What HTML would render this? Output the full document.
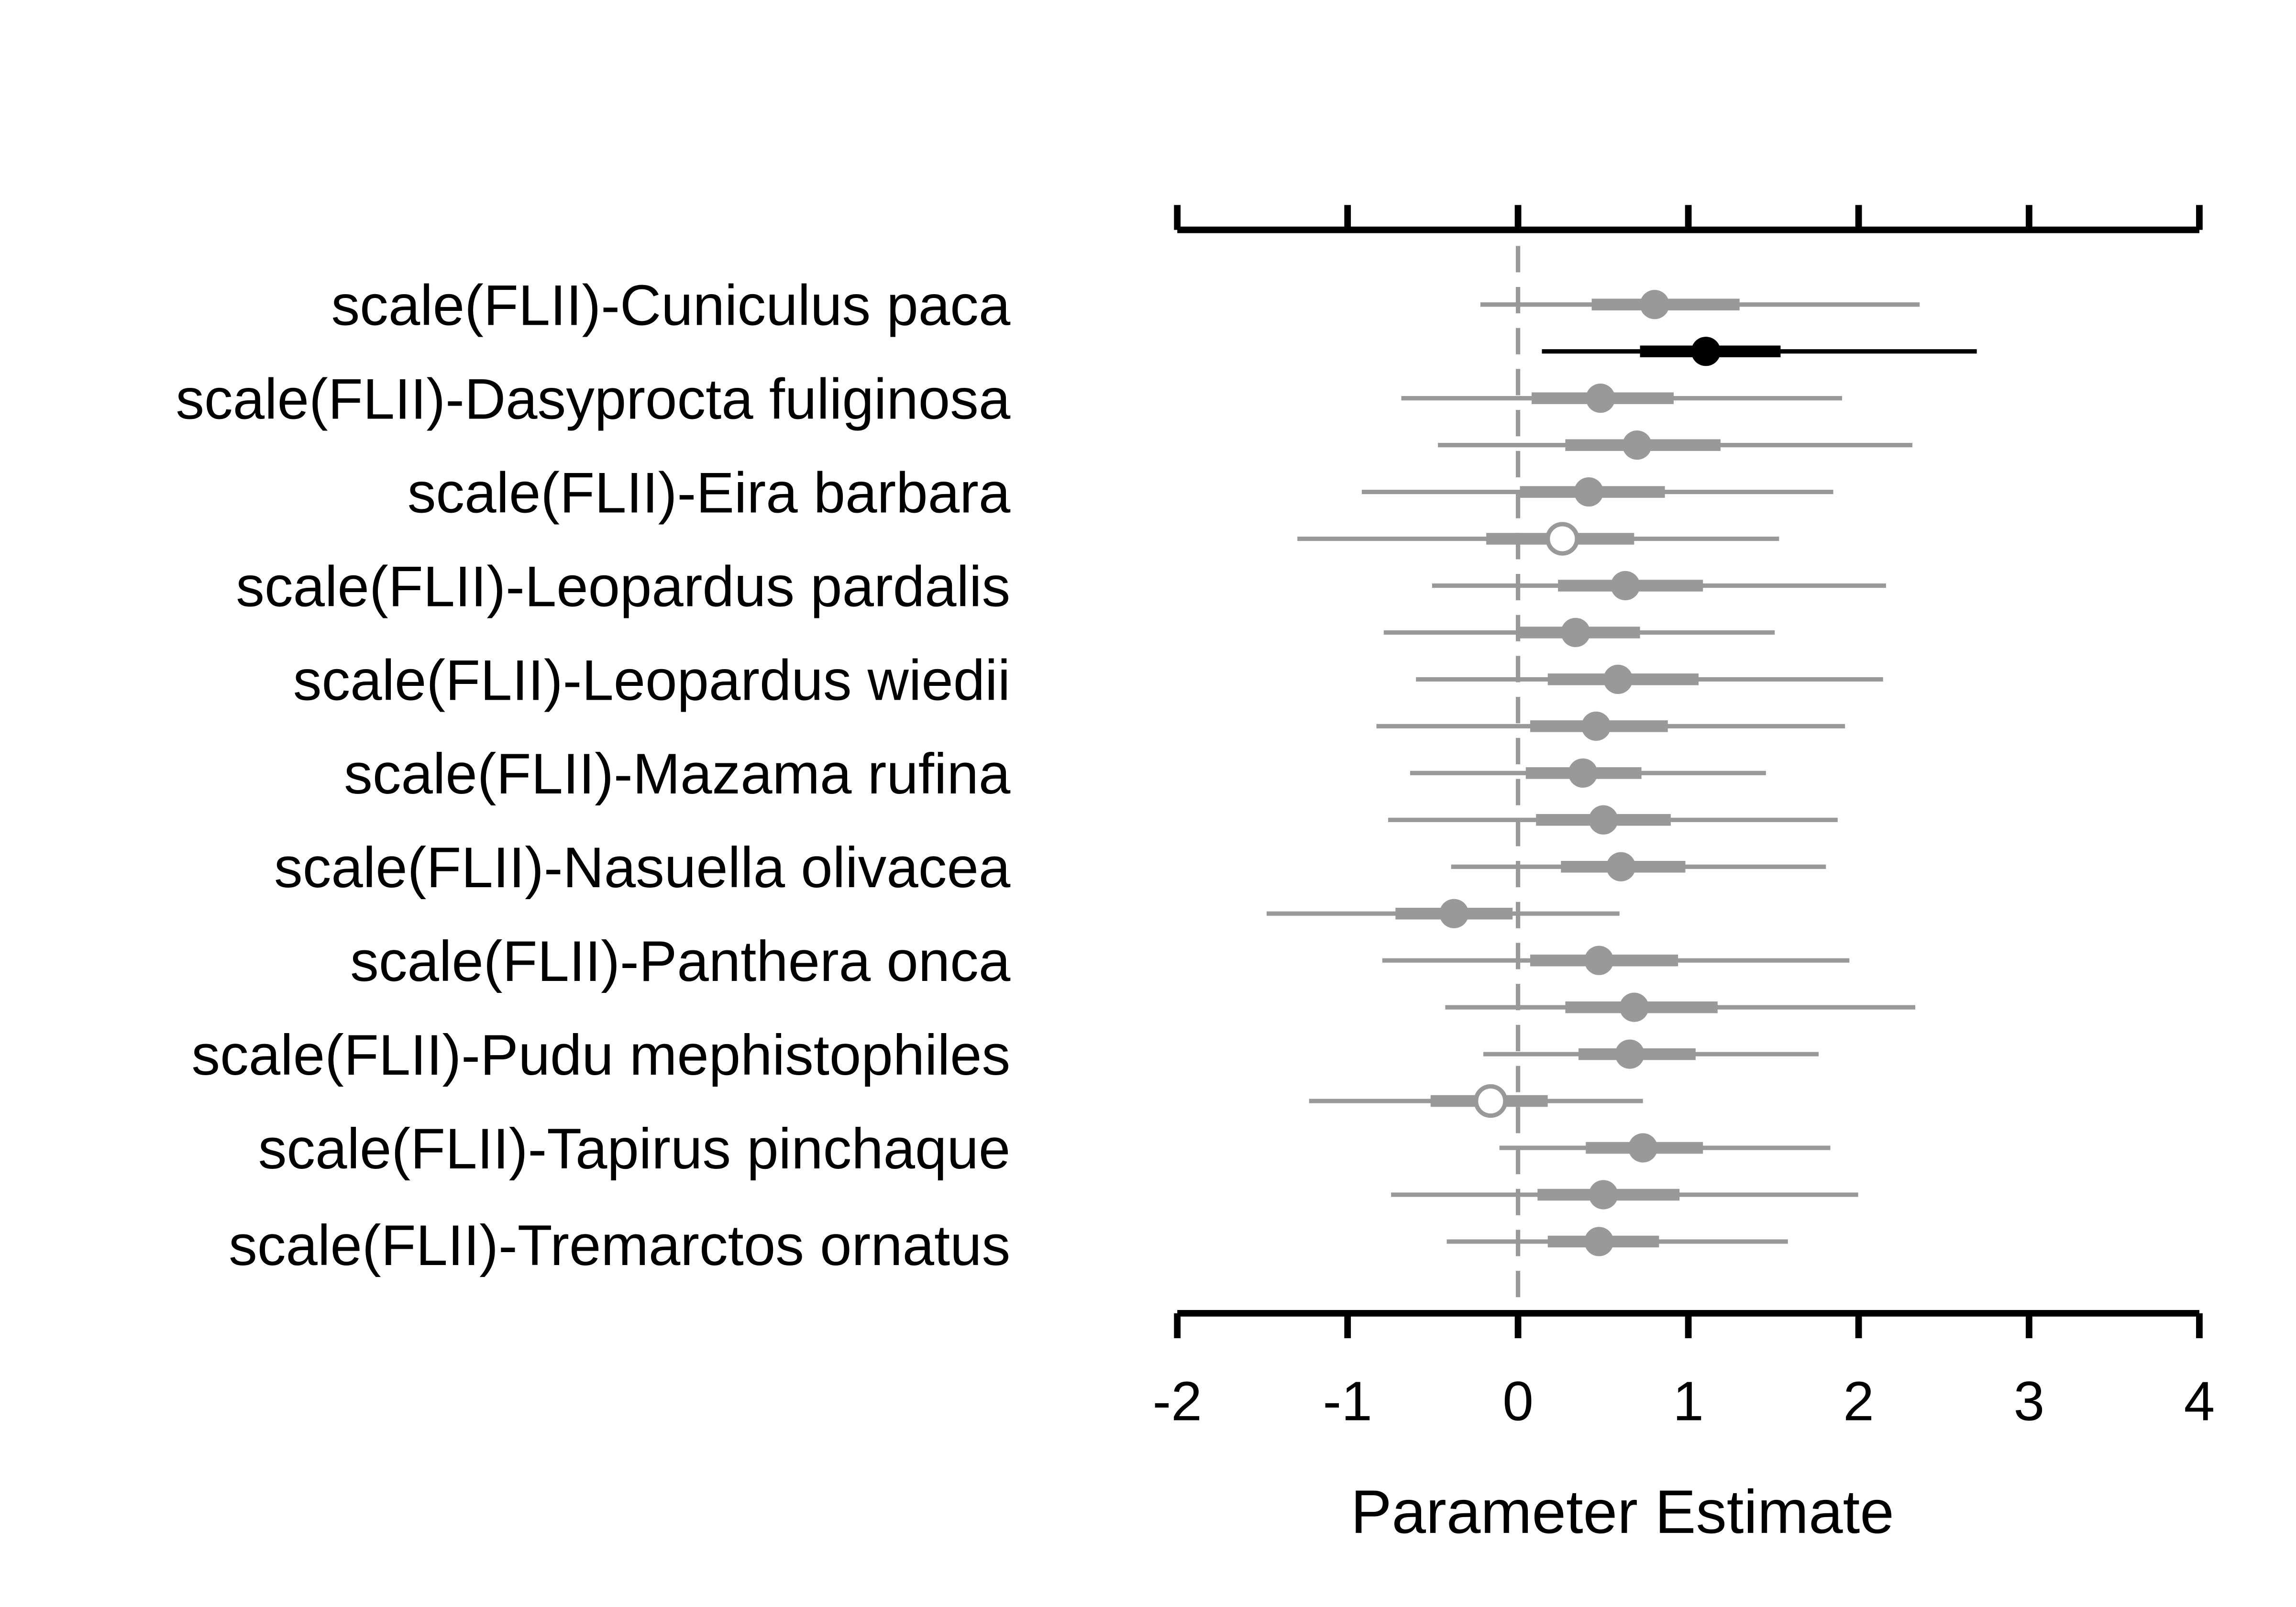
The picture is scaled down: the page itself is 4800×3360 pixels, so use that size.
<!DOCTYPE html>
<html><head><meta charset="utf-8"><style>
html,body{margin:0;padding:0;background:#fff;}
svg{display:block;}
text{font-family:"Liberation Sans",sans-serif;}
</style></head><body>
<svg width="4800" height="3360" viewBox="0 0 1568 1097.6" xmlns="http://www.w3.org/2000/svg">
<rect width="1568" height="1097.6" fill="#fff"/>
<line x1="1036.7" y1="168" x2="1036.7" y2="896" stroke="#999" stroke-width="3" stroke-dasharray="18,10"/>
<g stroke="#000" stroke-width="4.5" fill="none">
<path d="M804 157H1502M804 140V157M920.3 140V157M1036.7 140V157M1153 140V157M1269.3 140V157M1385.7 140V157M1502 140V157"/>
<path d="M804 897H1502M804 897V914M920.3 897V914M1036.7 897V914M1153 897V914M1269.3 897V914M1385.7 897V914M1502 897V914"/>
</g>
<g font-size="38" text-anchor="middle" fill="#000">
<text x="804" y="970">-2</text><text x="920.3" y="970">-1</text><text x="1036.7" y="970">0</text><text x="1153" y="970">1</text><text x="1269.3" y="970">2</text><text x="1385.7" y="970">3</text><text x="1502" y="970">4</text>
<text x="1108" y="1047" font-size="42">Parameter Estimate</text>
</g>
<g font-size="39" text-anchor="end" fill="#000">
<text x="690" y="222">scale(FLII)-Cuniculus paca</text>
<text x="690" y="286">scale(FLII)-Dasyprocta fuliginosa</text>
<text x="690" y="350">scale(FLII)-Eira barbara</text>
<text x="690" y="414">scale(FLII)-Leopardus pardalis</text>
<text x="690" y="478">scale(FLII)-Leopardus wiedii</text>
<text x="690" y="542">scale(FLII)-Mazama rufina</text>
<text x="690" y="606">scale(FLII)-Nasuella olivacea</text>
<text x="690" y="670">scale(FLII)-Panthera onca</text>
<text x="690" y="734">scale(FLII)-Pudu mephistophiles</text>
<text x="690" y="798">scale(FLII)-Tapirus pinchaque</text>
<text x="690" y="864">scale(FLII)-Tremarctos ornatus</text>
</g>
<g stroke-linecap="butt">
<g stroke="#999" fill="#999">
<line x1="1011" x2="1311" y1="208" y2="208" stroke-width="3"/><line x1="1087" x2="1188" y1="208" y2="208" stroke-width="8"/><circle cx="1130" cy="208" r="10" stroke="none"/>
<line x1="957" x2="1258" y1="272" y2="272" stroke-width="3"/><line x1="1046" x2="1143" y1="272" y2="272" stroke-width="8"/><circle cx="1093" cy="272" r="10" stroke="none"/>
<line x1="982" x2="1306" y1="304" y2="304" stroke-width="3"/><line x1="1069" x2="1175" y1="304" y2="304" stroke-width="8"/><circle cx="1118" cy="304" r="10" stroke="none"/>
<line x1="930" x2="1252" y1="336" y2="336" stroke-width="3"/><line x1="1038" x2="1137" y1="336" y2="336" stroke-width="8"/><circle cx="1085" cy="336" r="10" stroke="none"/>
<line x1="886" x2="1215" y1="368" y2="368" stroke-width="3"/><line x1="1015" x2="1116" y1="368" y2="368" stroke-width="8"/><circle cx="1067" cy="368" r="10" fill="#fff" stroke-width="3"/>
<line x1="978" x2="1288" y1="400" y2="400" stroke-width="3"/><line x1="1064" x2="1163" y1="400" y2="400" stroke-width="8"/><circle cx="1110" cy="400" r="10" stroke="none"/>
<line x1="945" x2="1212" y1="432" y2="432" stroke-width="3"/><line x1="1036" x2="1120" y1="432" y2="432" stroke-width="8"/><circle cx="1076" cy="432" r="10" stroke="none"/>
<line x1="967" x2="1286" y1="464" y2="464" stroke-width="3"/><line x1="1057" x2="1160" y1="464" y2="464" stroke-width="8"/><circle cx="1105" cy="464" r="10" stroke="none"/>
<line x1="940" x2="1260" y1="496" y2="496" stroke-width="3"/><line x1="1045" x2="1139" y1="496" y2="496" stroke-width="8"/><circle cx="1090" cy="496" r="10" stroke="none"/>
<line x1="963" x2="1206" y1="528" y2="528" stroke-width="3"/><line x1="1042" x2="1121" y1="528" y2="528" stroke-width="8"/><circle cx="1081" cy="528" r="10" stroke="none"/>
<line x1="948" x2="1255" y1="560" y2="560" stroke-width="3"/><line x1="1049" x2="1141" y1="560" y2="560" stroke-width="8"/><circle cx="1095" cy="560" r="10" stroke="none"/>
<line x1="991" x2="1247" y1="592" y2="592" stroke-width="3"/><line x1="1066" x2="1151" y1="592" y2="592" stroke-width="8"/><circle cx="1107" cy="592" r="10" stroke="none"/>
<line x1="865" x2="1106" y1="624" y2="624" stroke-width="3"/><line x1="953" x2="1033" y1="624" y2="624" stroke-width="8"/><circle cx="993" cy="624" r="10" stroke="none"/>
<line x1="944" x2="1263" y1="656" y2="656" stroke-width="3"/><line x1="1045" x2="1146" y1="656" y2="656" stroke-width="8"/><circle cx="1092" cy="656" r="10" stroke="none"/>
<line x1="987" x2="1308" y1="688" y2="688" stroke-width="3"/><line x1="1069" x2="1173" y1="688" y2="688" stroke-width="8"/><circle cx="1116" cy="688" r="10" stroke="none"/>
<line x1="1013" x2="1242" y1="720" y2="720" stroke-width="3"/><line x1="1078" x2="1158" y1="720" y2="720" stroke-width="8"/><circle cx="1113" cy="720" r="10" stroke="none"/>
<line x1="894" x2="1122" y1="752" y2="752" stroke-width="3"/><line x1="977" x2="1057" y1="752" y2="752" stroke-width="8"/><circle cx="1018" cy="752" r="10" fill="#fff" stroke-width="3"/>
<line x1="1024" x2="1250" y1="784" y2="784" stroke-width="3"/><line x1="1083" x2="1163" y1="784" y2="784" stroke-width="8"/><circle cx="1122" cy="784" r="10" stroke="none"/>
<line x1="950" x2="1269" y1="816" y2="816" stroke-width="3"/><line x1="1050" x2="1147" y1="816" y2="816" stroke-width="8"/><circle cx="1095" cy="816" r="10" stroke="none"/>
<line x1="988" x2="1221" y1="848" y2="848" stroke-width="3"/><line x1="1057" x2="1133" y1="848" y2="848" stroke-width="8"/><circle cx="1092" cy="848" r="10" stroke="none"/>
</g>
<g stroke="#000" fill="#000">
<line x1="1053" x2="1350" y1="240" y2="240" stroke-width="3"/><line x1="1120" x2="1216" y1="240" y2="240" stroke-width="8"/><circle cx="1165" cy="240" r="10" stroke="none"/>
</g>
</g>
</svg>
</body></html>
